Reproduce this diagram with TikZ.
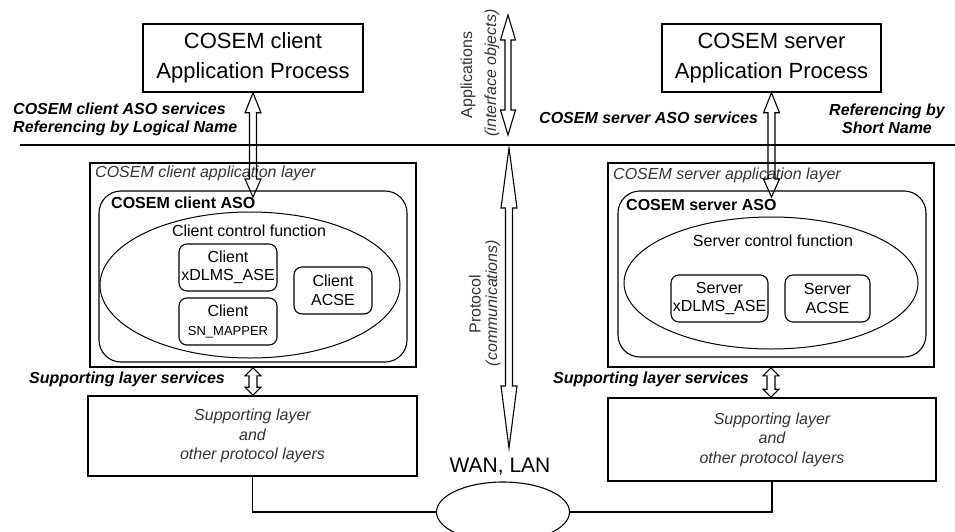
\documentclass[tikz,border=0pt]{standalone}
\usepackage{fontspec}
\setmainfont{Liberation Sans}
\usetikzlibrary{calc,shapes.geometric}

\tikzset{
  box/.style={draw, line width=1.6pt, inner sep=0pt},
  rbox/.style={draw, line width=1.1pt, rounded corners=8pt, inner sep=0pt, align=center,
               font=\fontsize{16}{18.5}\selectfont},
  oval/.style={draw, ellipse, line width=1pt, inner sep=0pt},
  hollow/.style={draw, line width=1.1pt, line join=miter},
  bigtxt/.style={font=\fontsize{22}{30}\selectfont, align=center},
  lbl/.style={font=\fontsize{16}{18}\selectfont\bfseries\itshape, inner sep=0pt},
  layerlbl/.style={font=\fontsize{16}{18}\selectfont\itshape, text=black!80, inner sep=0pt},
  asolbl/.style={font=\fontsize{16}{18}\selectfont\bfseries, inner sep=0pt},
  plain/.style={font=\fontsize{16}{18}\selectfont, inner sep=0pt},
  sidetxt/.style={font=\fontsize{16}{18}\selectfont, text=black!80, rotate=90, inner sep=0pt},
}

% vertical hollow double-headed arrow from #1 (top) to #2 (bottom)
% #3 half shaft width, #4 half head width, #5 top head length, #6 bottom head length
\newcommand\hollowarrow[6]{%
  \draw[hollow] let \p1=(#1), \p2=(#2) in
    (\x1,\y1) -- (\x1+#4,\y1-#5) -- (\x1+#3,\y1-#5) -- (\x1+#3,\y2+#6)
    -- (\x1+#4,\y2+#6) -- (\x1,\y2) -- (\x1-#4,\y2+#6) -- (\x1-#3,\y2+#6)
    -- (\x1-#3,\y1-#5) -- (\x1-#4,\y1-#5) -- cycle;}

\begin{document}
\begin{tikzpicture}[x=1pt,y=-1pt]
\useasboundingbox (0,0) rectangle (955,532);

% application processes
\node[box, minimum width=220pt, minimum height=68pt, bigtxt] (cap) at (253,58)
  {COSEM client\\Application Process};
\node[box, minimum width=219pt, minimum height=68pt, bigtxt] (sap) at (771.5,58)
  {COSEM server\\Application Process};

% ASO service labels
\node[lbl, anchor=west, align=left] (cserv) at (13,119)
  {COSEM client ASO services\\Referencing by Logical Name};
\node[lbl, anchor=west] (sserv) at (539,118) {COSEM server ASO services};
\node[lbl, align=center] (sref) at (887,119) {Referencing by\\Short Name};

% separation between applications and protocol
\coordinate (hl1) at (20,145);
\coordinate (hl2) at (955,145);
\draw[line width=2.6pt] (hl1) -- (hl2);

% ---------------- client side ----------------
\node[box, minimum width=326pt, minimum height=204pt] (cal) at (253,265) {};
\node[layerlbl, anchor=west] (calt) at (95,173) {COSEM client application layer};
\node[draw, line width=1.1pt, rounded corners=22pt, minimum width=308pt, minimum height=171pt]
  (caso) at (253,276.5) {};
\node[asolbl, anchor=west] (casot) at (111,203) {COSEM client ASO};
\node[oval, minimum width=300pt, minimum height=146pt] (cell) at (250,285) {};
\node[plain] (cellt) at (249,231) {Client control function};
\node[rbox, minimum width=98pt, minimum height=47pt] (cxd) at (228,267.5)
  {Client\\xDLMS\_ASE};
\node[rbox, minimum width=98pt, minimum height=47pt] (csn) at (228,321.5)
  {Client\\{\fontsize{13}{15}\selectfont SN\_MAPPER}};
\node[rbox, minimum width=78pt, minimum height=47pt] (cacse) at (333,290.5)
  {Client\\ACSE};

\node[lbl, anchor=west] (csup) at (29,379) {Supporting layer services};
\node[box, minimum width=329pt, minimum height=80pt, layerlbl, align=center,
      font=\fontsize{16}{19.5}\selectfont\itshape] (lsup) at (252.5,436)
  {Supporting layer\\and\\other protocol layers};

% ---------------- server side ----------------
\node[box, minimum width=326pt, minimum height=204pt] (sal) at (771,265) {};
\node[layerlbl, anchor=west] (salt) at (613,175) {COSEM server application layer};
\node[draw, line width=1.1pt, rounded corners=22pt, minimum width=308pt, minimum height=166pt]
  (saso) at (772,274) {};
\node[asolbl, anchor=west] (sasot) at (626,205) {COSEM server ASO};
\node[oval, minimum width=294pt, minimum height=132pt] (sell) at (771,283) {};
\node[plain] (sellt) at (773,241) {Server control function};
\node[rbox, minimum width=97pt, minimum height=47pt] (sxd) at (719.5,298.5)
  {Server\\xDLMS\_ASE};
\node[rbox, minimum width=85pt, minimum height=47pt] (sacse) at (827.5,298.5)
  {Server\\ACSE};

\node[lbl, anchor=west] (ssup) at (553,379) {Supporting layer services};
\node[box, minimum width=328pt, minimum height=83pt, layerlbl, align=center,
      font=\fontsize{16}{19.5}\selectfont\itshape] (rsup) at (772,439.5)
  {Supporting layer\\and\\other protocol layers};

% ---------------- network ----------------
\node[font=\fontsize{21}{24}\selectfont, inner sep=0pt] (wantxt) at (500,467) {WAN, LAN};
\node[oval, line width=1.1pt, minimum width=133pt, minimum height=60pt] (wan) at (503,512) {};
\draw[line width=1.3pt] (lsup.south) |- (wan.west);
\draw[line width=1.3pt] (rsup.south) |- (wan.east);

% ---------------- vertical labels ----------------
\node[sidetxt] (appt) at (468,75) {Applications};
\node[sidetxt, font=\fontsize{16}{18}\selectfont\itshape] (ifot) at (492,73) {(interface objects)};
\node[sidetxt] (prot) at (475,304) {Protocol};
\node[sidetxt, font=\fontsize{16}{18}\selectfont\itshape] (comt) at (493,303) {(communications)};

% ---------------- hollow arrows ----------------
\coordinate (cab) at (253,197);
\coordinate (sab) at (771.5,197);
\coordinate (apt) at (508,15);
\coordinate (apb) at (508,135);
\coordinate (prt) at (509,148);
\coordinate (prb) at (509,448);

\hollowarrow{cap.south}{cab}{3.5pt}{8pt}{20pt}{18pt}
\hollowarrow{sap.south}{sab}{3.5pt}{8pt}{20pt}{18pt}
\hollowarrow{apt}{apb}{3pt}{7.5pt}{25pt}{25pt}
\hollowarrow{prt}{prb}{3.5pt}{8pt}{60pt}{62pt}
\hollowarrow{cal.south}{lsup.north}{4pt}{8pt}{8pt}{8pt}
\hollowarrow{sal.south}{rsup.north}{4pt}{8pt}{8pt}{8pt}

\end{tikzpicture}
\end{document}
